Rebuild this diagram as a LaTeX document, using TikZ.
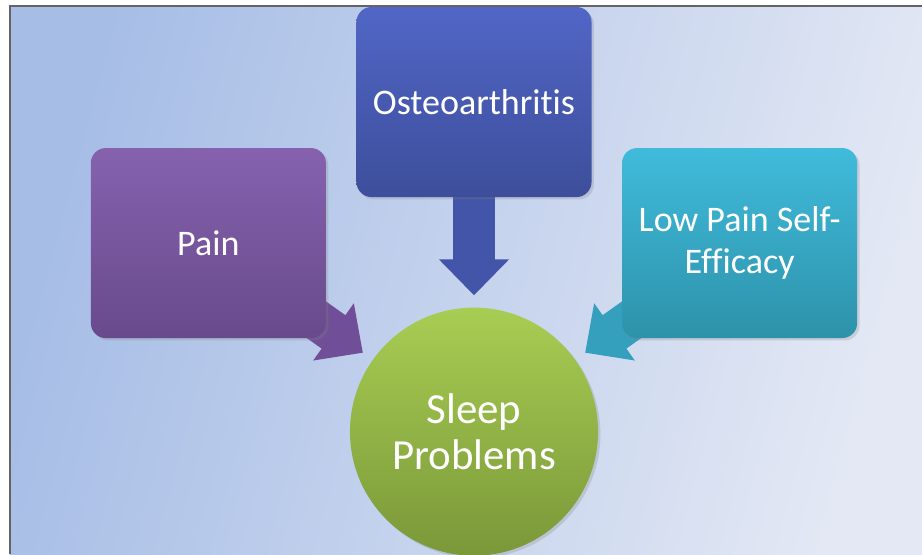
\documentclass[tikz,border=0pt]{standalone}
\usepackage{fontspec}
\setmainfont{Carlito}[Ligatures={NoCommon}]
\usepackage{xcolor}
\usepackage{tikz}
\usetikzlibrary{arrows.meta, positioning, shadows, backgrounds}
\definecolor{bgleft}{RGB}{166, 189, 230}
\definecolor{bgright}{RGB}{227, 232, 244}
\definecolor{osteotop}{RGB}{81, 102, 198}
\definecolor{osteobot}{RGB}{61, 78, 155}
\definecolor{paintop}{RGB}{134, 98, 174}
\definecolor{painbot}{RGB}{104, 74, 140}
\definecolor{lowtop}{RGB}{64, 187, 219}
\definecolor{lowbot}{RGB}{45, 146, 170}
\definecolor{sleeptop}{RGB}{168, 205, 83}
\definecolor{sleepbot}{RGB}{122, 152, 57}
\definecolor{osteoarrow}{RGB}{67, 85, 168}
\definecolor{painarrow}{RGB}{112, 79, 152}
\definecolor{lowarrow}{RGB}{52, 160, 190}
\definecolor{framegray}{RGB}{100, 100, 100}

\begin{document}
\begin{tikzpicture}[
    x=0.025cm, y=-0.025cm,
    node distance=0.75cm,
    comp/.style={rounded corners=0.375cm, minimum width=5.875cm,
                 minimum height=4.75cm, align=center, text=white,
                 font=\fontsize{25.6}{30}\selectfont,
                 drop shadow={opacity=0.25, shadow xshift=0.6mm, shadow yshift=-0.6mm}},
    flow/.style={line width=1.025cm, -{Triangle[length=0.9cm, width=1.7cm]},
                 shorten >=0.3cm}
]
    \useasboundingbox (0,0) rectangle (922,554);
    \node[comp, top color=osteotop, bottom color=osteobot] (osteo) at (474,102) {Osteoarthritis};
    \node[comp, top color=paintop, bottom color=painbot, left=of osteo, yshift=-3.525cm] (pain) {Pain};
    \node[comp, top color=lowtop, bottom color=lowbot, right=of osteo, yshift=-3.525cm] (lowpain) {Low Pain Self-\\Efficacy};
    \node[circle, minimum size=6.2cm, top color=sleeptop, bottom color=sleepbot,
          text=white, align=center, font=\fontsize{30.5}{33}\selectfont,
          drop shadow={opacity=0.25, shadow xshift=0.6mm, shadow yshift=-0.6mm},
          below=2.75cm of osteo] (sleep) {Sleep\\Problems};

    \begin{scope}[on background layer]
        \fill[left color=bgleft, right color=bgright, shading angle=75] (10,6) rectangle (922,554);
        \draw[osteoarrow, flow] (osteo.south) -- (sleep);
        \draw[painarrow, flow] (pain.center) -- (sleep);
        \draw[lowarrow, flow] (lowpain.center) -- (sleep);
    \end{scope}
    \draw[framegray, line width=0.04cm] (10,554) -- (10,6) -- (922,6);
\end{tikzpicture}
\end{document}
